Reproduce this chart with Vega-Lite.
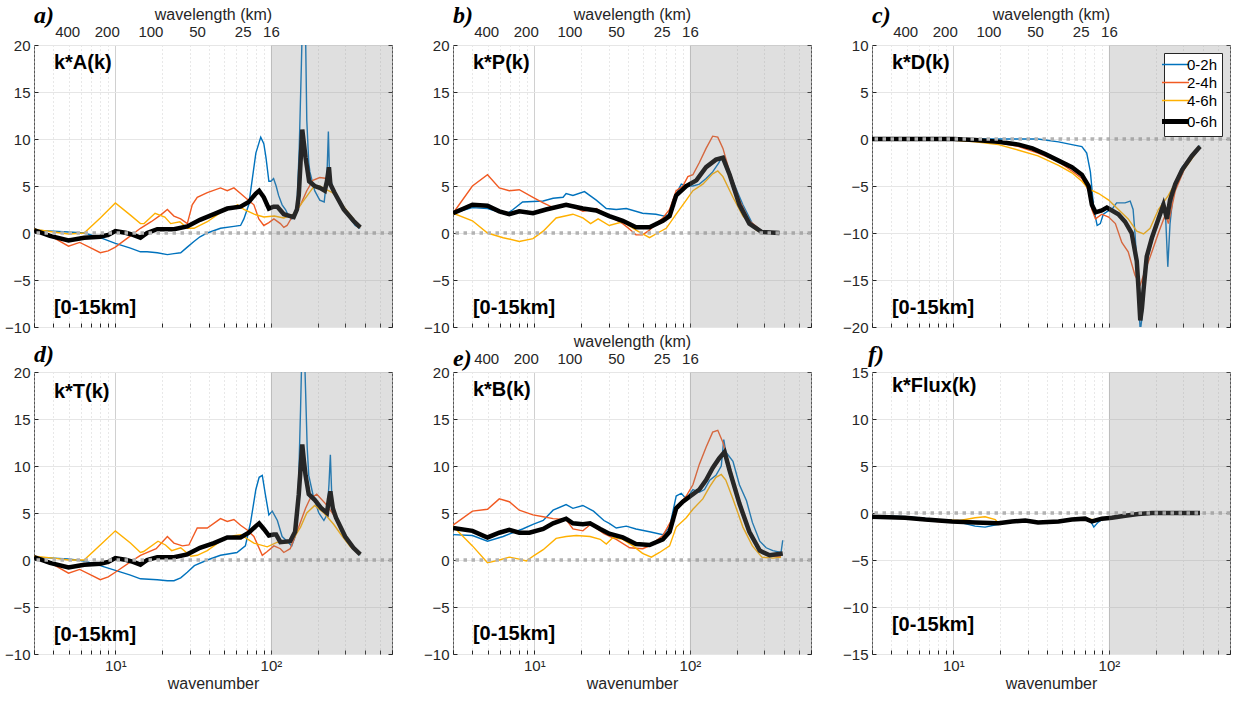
{
"$schema":"https://vega.github.io/schema/vega-lite/v6.json",
"background":"#ffffff",
"padding":{"left":4,"top":3,"right":5,"bottom":5},
"columns":3,
"spacing":{"row":45,"column":61},
"bounds":"flush",
"resolve":{"scale":{"color":"independent"},"legend":{"color":"independent"}},
"config":{
 "view":{"stroke":"#555555","strokeWidth":1},
 "axis":{"labelFont":"Liberation Sans","labelFontSize":15,"labelColor":"#262626","titleFont":"Liberation Sans","titleFontSize":16,"titleFontWeight":"normal","titleColor":"#262626","tickColor":"#262626","domain":false,"labelFlush":false,"labelOverlap":false},
 "title":{"font":"Liberation Serif","fontStyle":"italic","fontWeight":"bold","fontSize":24,"anchor":"start","frame":"group","color":"#000000"},
 "text":{"font":"Liberation Sans","color":"#000000"}
},
"datasets":{
"a":[
{"s":"0-2h","k":3,"v":0.3},{"s":"0-2h","k":4,"v":0.2},{"s":"0-2h","k":5,"v":0.1},{"s":"0-2h","k":6.3,"v":0},{"s":"0-2h","k":8,"v":-0.5},{"s":"0-2h","k":10,"v":-1.1},{"s":"0-2h","k":12.5,"v":-1.6},{"s":"0-2h","k":14.5,"v":-2.0},{"s":"0-2h","k":16,"v":-2.0},{"s":"0-2h","k":18.6,"v":-2.1},{"s":"0-2h","k":21.6,"v":-2.3},{"s":"0-2h","k":23.8,"v":-2.2},{"s":"0-2h","k":26.3,"v":-2.1},{"s":"0-2h","k":29,"v":-1.5},{"s":"0-2h","k":32,"v":-0.9},{"s":"0-2h","k":35,"v":-0.4},{"s":"0-2h","k":39,"v":0.0},{"s":"0-2h","k":47.4,"v":0.5},{"s":"0-2h","k":57.8,"v":0.7},{"s":"0-2h","k":63.8,"v":0.8},{"s":"0-2h","k":67,"v":1.5},{"s":"0-2h","k":72,"v":3.0},{"s":"0-2h","k":77,"v":6.5},{"s":"0-2h","k":80,"v":8.5},{"s":"0-2h","k":86,"v":10.2},{"s":"0-2h","k":90,"v":9.5},{"s":"0-2h","k":93,"v":8},{"s":"0-2h","k":97,"v":5.5},{"s":"0-2h","k":100,"v":5.5},{"s":"0-2h","k":104,"v":5.8},{"s":"0-2h","k":108,"v":5.0},{"s":"0-2h","k":112,"v":4.0},{"s":"0-2h","k":118,"v":3.0},{"s":"0-2h","k":124,"v":2.5},{"s":"0-2h","k":130,"v":1.8},{"s":"0-2h","k":136,"v":1.5},{"s":"0-2h","k":140,"v":1.6},{"s":"0-2h","k":147,"v":3.0},{"s":"0-2h","k":152,"v":9},{"s":"0-2h","k":157,"v":18},{"s":"0-2h","k":160,"v":24},{"s":"0-2h","k":166,"v":24},{"s":"0-2h","k":170,"v":12},{"s":"0-2h","k":175,"v":7.5},{"s":"0-2h","k":178,"v":6.5},{"s":"0-2h","k":191,"v":4.5},{"s":"0-2h","k":206,"v":3.5},{"s":"0-2h","k":220,"v":3.3},{"s":"0-2h","k":229,"v":6.0},{"s":"0-2h","k":234,"v":10.8},{"s":"0-2h","k":238,"v":6.0},{"s":"0-2h","k":249,"v":5.0},{"s":"0-2h","k":268,"v":3.5},{"s":"0-2h","k":294,"v":2.5},{"s":"0-2h","k":324,"v":1.5},{"s":"0-2h","k":348,"v":0.8},{"s":"0-2h","k":375,"v":0.5},
{"s":"2-4h","k":3,"v":0.4},{"s":"2-4h","k":4,"v":-0.5},{"s":"2-4h","k":5,"v":-1.4},{"s":"2-4h","k":5.9,"v":-1.0},{"s":"2-4h","k":7,"v":-1.6},{"s":"2-4h","k":8,"v":-2.1},{"s":"2-4h","k":9,"v":-1.9},{"s":"2-4h","k":10,"v":-1.5},{"s":"2-4h","k":12.5,"v":-0.3},{"s":"2-4h","k":14.5,"v":0.5},{"s":"2-4h","k":17,"v":1.2},{"s":"2-4h","k":19.5,"v":1.9},{"s":"2-4h","k":21.6,"v":2.5},{"s":"2-4h","k":23.8,"v":1.8},{"s":"2-4h","k":26.3,"v":1.5},{"s":"2-4h","k":29,"v":1.0},{"s":"2-4h","k":31.2,"v":3.0},{"s":"2-4h","k":33.6,"v":3.8},{"s":"2-4h","k":39,"v":4.3},{"s":"2-4h","k":47.4,"v":4.8},{"s":"2-4h","k":52.4,"v":4.5},{"s":"2-4h","k":57.8,"v":4.8},{"s":"2-4h","k":63.8,"v":4.2},{"s":"2-4h","k":70.4,"v":3.6},{"s":"2-4h","k":77.7,"v":3.0},{"s":"2-4h","k":83.6,"v":1.5},{"s":"2-4h","k":90,"v":0.8},{"s":"2-4h","k":97,"v":1.1},{"s":"2-4h","k":104.5,"v":1.5},{"s":"2-4h","k":115,"v":1.0},{"s":"2-4h","k":121,"v":0.6},{"s":"2-4h","k":127,"v":0.8},{"s":"2-4h","k":140,"v":2.0},{"s":"2-4h","k":155,"v":3.0},{"s":"2-4h","k":170,"v":4.5},{"s":"2-4h","k":186,"v":5.6},{"s":"2-4h","k":206,"v":5.9},{"s":"2-4h","k":229,"v":5.8},{"s":"2-4h","k":256,"v":4.5},{"s":"2-4h","k":281,"v":3.2},{"s":"2-4h","k":324,"v":1.8},{"s":"2-4h","k":375,"v":0.6},
{"s":"4-6h","k":3,"v":0.4},{"s":"4-6h","k":4,"v":0.1},{"s":"4-6h","k":5,"v":-0.1},{"s":"4-6h","k":6.3,"v":0.0},{"s":"4-6h","k":8,"v":1.6},{"s":"4-6h","k":10,"v":3.2},{"s":"4-6h","k":12.5,"v":1.9},{"s":"4-6h","k":14.5,"v":1.0},{"s":"4-6h","k":15.3,"v":1.0},{"s":"4-6h","k":18,"v":2.1},{"s":"4-6h","k":20.8,"v":1.7},{"s":"4-6h","k":22.7,"v":1.0},{"s":"4-6h","k":26,"v":1.2},{"s":"4-6h","k":29,"v":0.5},{"s":"4-6h","k":32,"v":0.5},{"s":"4-6h","k":39,"v":1.2},{"s":"4-6h","k":47.6,"v":2.2},{"s":"4-6h","k":58,"v":2.8},{"s":"4-6h","k":61,"v":3.0},{"s":"4-6h","k":67,"v":2.5},{"s":"4-6h","k":78,"v":2.0},{"s":"4-6h","k":90,"v":1.7},{"s":"4-6h","k":105,"v":1.8},{"s":"4-6h","k":121,"v":1.6},{"s":"4-6h","k":140,"v":2.0},{"s":"4-6h","k":155,"v":3.0},{"s":"4-6h","k":186,"v":4.8},{"s":"4-6h","k":206,"v":5.0},{"s":"4-6h","k":229,"v":4.6},{"s":"4-6h","k":256,"v":4.2},{"s":"4-6h","k":294,"v":2.8},{"s":"4-6h","k":375,"v":0.6},
{"s":"0-6h","k":3,"v":0.3},{"s":"0-6h","k":3.8,"v":-0.3},{"s":"0-6h","k":5,"v":-0.8},{"s":"0-6h","k":6.3,"v":-0.5},{"s":"0-6h","k":8,"v":-0.4},{"s":"0-6h","k":9,"v":-0.2},{"s":"0-6h","k":10,"v":0.2},{"s":"0-6h","k":11.8,"v":0.0},{"s":"0-6h","k":13,"v":-0.2},{"s":"0-6h","k":14.5,"v":-0.5},{"s":"0-6h","k":16,"v":0.0},{"s":"0-6h","k":18.6,"v":0.4},{"s":"0-6h","k":23.8,"v":0.4},{"s":"0-6h","k":29,"v":0.7},{"s":"0-6h","k":35,"v":1.4},{"s":"0-6h","k":43,"v":2.0},{"s":"0-6h","k":52.4,"v":2.6},{"s":"0-6h","k":63.8,"v":2.8},{"s":"0-6h","k":72,"v":3.3},{"s":"0-6h","k":80,"v":4.2},{"s":"0-6h","k":84,"v":4.5},{"s":"0-6h","k":90,"v":3.8},{"s":"0-6h","k":97,"v":2.6},{"s":"0-6h","k":104,"v":2.8},{"s":"0-6h","k":110,"v":2.8},{"s":"0-6h","k":121,"v":2.0},{"s":"0-6h","k":133,"v":1.8},{"s":"0-6h","k":140,"v":1.7},{"s":"0-6h","k":147,"v":2.5},{"s":"0-6h","k":151,"v":4.0},{"s":"0-6h","k":155,"v":7.5},{"s":"0-6h","k":159,"v":11.0},{"s":"0-6h","k":163,"v":9.5},{"s":"0-6h","k":167,"v":8.0},{"s":"0-6h","k":176,"v":5.5},{"s":"0-6h","k":191,"v":5.0},{"s":"0-6h","k":206,"v":4.8},{"s":"0-6h","k":222,"v":4.5},{"s":"0-6h","k":229,"v":5.5},{"s":"0-6h","k":236,"v":7.0},{"s":"0-6h","k":241,"v":5.2},{"s":"0-6h","k":256,"v":4.3},{"s":"0-6h","k":294,"v":2.5},{"s":"0-6h","k":339,"v":1.3},{"s":"0-6h","k":375,"v":0.6}
],
"b":[
{"s":"0-2h","k":3,"v":2.1},{"s":"0-2h","k":4,"v":2.7},{"s":"0-2h","k":5,"v":2.6},{"s":"0-2h","k":6.6,"v":2.0},{"s":"0-2h","k":7.3,"v":2.5},{"s":"0-2h","k":8.4,"v":3.3},{"s":"0-2h","k":11.4,"v":3.4},{"s":"0-2h","k":13.2,"v":3.7},{"s":"0-2h","k":15.3,"v":3.8},{"s":"0-2h","k":16,"v":4.2},{"s":"0-2h","k":17.7,"v":4.0},{"s":"0-2h","k":21,"v":4.4},{"s":"0-2h","k":25,"v":3.5},{"s":"0-2h","k":29,"v":2.6},{"s":"0-2h","k":33.6,"v":2.5},{"s":"0-2h","k":39,"v":2.6},{"s":"0-2h","k":49.6,"v":2.1},{"s":"0-2h","k":60.5,"v":2.0},{"s":"0-2h","k":68.5,"v":1.8},{"s":"0-2h","k":74,"v":2.0},{"s":"0-2h","k":77.7,"v":3.5},{"s":"0-2h","k":83.6,"v":4.5},{"s":"0-2h","k":88,"v":5.2},{"s":"0-2h","k":94.7,"v":5.0},{"s":"0-2h","k":104.5,"v":5.0},{"s":"0-2h","k":115,"v":5.2},{"s":"0-2h","k":127,"v":5.8},{"s":"0-2h","k":140,"v":6.5},{"s":"0-2h","k":154,"v":7.5},{"s":"0-2h","k":159,"v":8.0},{"s":"0-2h","k":170,"v":7.5},{"s":"0-2h","k":189,"v":5.5},{"s":"0-2h","k":219,"v":3.0},{"s":"0-2h","k":252,"v":1.0},{"s":"0-2h","k":290,"v":0.2},{"s":"0-2h","k":341,"v":0.05},
{"s":"2-4h","k":3,"v":2.1},{"s":"2-4h","k":4,"v":5.0},{"s":"2-4h","k":5,"v":6.2},{"s":"2-4h","k":5.95,"v":4.8},{"s":"2-4h","k":6.9,"v":4.5},{"s":"2-4h","k":8,"v":4.6},{"s":"2-4h","k":9.8,"v":3.8},{"s":"2-4h","k":11.4,"v":3.2},{"s":"2-4h","k":13.2,"v":2.7},{"s":"2-4h","k":15.3,"v":3.0},{"s":"2-4h","k":17.7,"v":2.8},{"s":"2-4h","k":20.5,"v":2.3},{"s":"2-4h","k":25,"v":2.6},{"s":"2-4h","k":30.3,"v":1.8},{"s":"2-4h","k":37,"v":1.0},{"s":"2-4h","k":41,"v":0.4},{"s":"2-4h","k":45,"v":-0.2},{"s":"2-4h","k":49.6,"v":-0.2},{"s":"2-4h","k":55,"v":0.3},{"s":"2-4h","k":60.5,"v":1.0},{"s":"2-4h","k":67,"v":1.6},{"s":"2-4h","k":74,"v":2.5},{"s":"2-4h","k":81.6,"v":4.5},{"s":"2-4h","k":90,"v":5.0},{"s":"2-4h","k":97,"v":6.0},{"s":"2-4h","k":104.5,"v":6.2},{"s":"2-4h","k":115,"v":7.5},{"s":"2-4h","k":127,"v":9.0},{"s":"2-4h","k":140,"v":10.3},{"s":"2-4h","k":151,"v":10.2},{"s":"2-4h","k":163,"v":9.0},{"s":"2-4h","k":180,"v":6.5},{"s":"2-4h","k":208,"v":3.5},{"s":"2-4h","k":241,"v":1.3},{"s":"2-4h","k":290,"v":0.2},{"s":"2-4h","k":341,"v":0.0},
{"s":"4-6h","k":3,"v":2.1},{"s":"4-6h","k":4,"v":1.3},{"s":"4-6h","k":5,"v":0.0},{"s":"4-6h","k":6.3,"v":-0.5},{"s":"4-6h","k":8,"v":-0.9},{"s":"4-6h","k":9.8,"v":-0.6},{"s":"4-6h","k":11.4,"v":0.2},{"s":"4-6h","k":13.8,"v":1.6},{"s":"4-6h","k":17.7,"v":2.0},{"s":"4-6h","k":20.5,"v":1.6},{"s":"4-6h","k":23,"v":1.0},{"s":"4-6h","k":25.7,"v":1.5},{"s":"4-6h","k":30.3,"v":0.8},{"s":"4-6h","k":37,"v":1.2},{"s":"4-6h","k":45,"v":0.3},{"s":"4-6h","k":55,"v":-0.5},{"s":"4-6h","k":62,"v":0.0},{"s":"4-6h","k":70.4,"v":0.5},{"s":"4-6h","k":81.6,"v":2.0},{"s":"4-6h","k":94.7,"v":3.5},{"s":"4-6h","k":104.5,"v":4.5},{"s":"4-6h","k":121,"v":5.2},{"s":"4-6h","k":140,"v":6.3},{"s":"4-6h","k":151,"v":6.6},{"s":"4-6h","k":163,"v":6.0},{"s":"4-6h","k":189,"v":3.8},{"s":"4-6h","k":219,"v":1.8},{"s":"4-6h","k":267,"v":0.3},{"s":"4-6h","k":290,"v":0.0},
{"s":"0-6h","k":3,"v":2.1},{"s":"0-6h","k":4,"v":3.0},{"s":"0-6h","k":5,"v":2.9},{"s":"0-6h","k":5.95,"v":2.3},{"s":"0-6h","k":6.9,"v":2.0},{"s":"0-6h","k":8,"v":2.3},{"s":"0-6h","k":9.8,"v":2.1},{"s":"0-6h","k":11.9,"v":2.5},{"s":"0-6h","k":16,"v":3.0},{"s":"0-6h","k":20.5,"v":2.6},{"s":"0-6h","k":25,"v":2.4},{"s":"0-6h","k":30.3,"v":1.8},{"s":"0-6h","k":37,"v":1.3},{"s":"0-6h","k":45,"v":0.6},{"s":"0-6h","k":55,"v":0.6},{"s":"0-6h","k":67,"v":1.3},{"s":"0-6h","k":74,"v":1.8},{"s":"0-6h","k":81.6,"v":4.0},{"s":"0-6h","k":94.7,"v":5.0},{"s":"0-6h","k":110,"v":5.6},{"s":"0-6h","k":127,"v":7.0},{"s":"0-6h","k":147,"v":7.8},{"s":"0-6h","k":163,"v":8.0},{"s":"0-6h","k":180,"v":6.2},{"s":"0-6h","k":208,"v":3.0},{"s":"0-6h","k":241,"v":1.0},{"s":"0-6h","k":290,"v":0.1},{"s":"0-6h","k":376,"v":0.0}
],
"c":[
{"s":"0-2h","k":3,"v":0},{"s":"0-2h","k":10,"v":0},{"s":"0-2h","k":20,"v":0},{"s":"0-2h","k":35,"v":0},{"s":"0-2h","k":39,"v":-0.1},{"s":"0-2h","k":47.4,"v":-0.3},{"s":"0-2h","k":57.8,"v":-0.6},{"s":"0-2h","k":67,"v":-0.8},{"s":"0-2h","k":72,"v":-1.5},{"s":"0-2h","k":76,"v":-3.5},{"s":"0-2h","k":80,"v":-7.5},{"s":"0-2h","k":84,"v":-9.2},{"s":"0-2h","k":88,"v":-9.0},{"s":"0-2h","k":92,"v":-8.0},{"s":"0-2h","k":100,"v":-7.6},{"s":"0-2h","k":104.5,"v":-7.5},{"s":"0-2h","k":112,"v":-6.8},{"s":"0-2h","k":127,"v":-6.8},{"s":"0-2h","k":137,"v":-6.6},{"s":"0-2h","k":143,"v":-7.5},{"s":"0-2h","k":147,"v":-10},{"s":"0-2h","k":151,"v":-13},{"s":"0-2h","k":155,"v":-17},{"s":"0-2h","k":159,"v":-20.5},{"s":"0-2h","k":163,"v":-19},{"s":"0-2h","k":167,"v":-17},{"s":"0-2h","k":175,"v":-13},{"s":"0-2h","k":199,"v":-9.5},{"s":"0-2h","k":219,"v":-7.0},{"s":"0-2h","k":231,"v":-8.0},{"s":"0-2h","k":239,"v":-13.6},{"s":"0-2h","k":247,"v":-9},{"s":"0-2h","k":262,"v":-5.0},{"s":"0-2h","k":295,"v":-3.0},{"s":"0-2h","k":341,"v":-1.8},{"s":"0-2h","k":385,"v":-0.7},
{"s":"2-4h","k":3,"v":0},{"s":"2-4h","k":12,"v":0},{"s":"2-4h","k":13.8,"v":-0.2},{"s":"2-4h","k":19.5,"v":-0.4},{"s":"2-4h","k":26.3,"v":-0.8},{"s":"2-4h","k":35,"v":-1.5},{"s":"2-4h","k":47.4,"v":-2.4},{"s":"2-4h","k":57.8,"v":-3.4},{"s":"2-4h","k":67,"v":-4.2},{"s":"2-4h","k":74,"v":-5.5},{"s":"2-4h","k":77.7,"v":-7.5},{"s":"2-4h","k":82,"v":-8.5},{"s":"2-4h","k":90,"v":-8.0},{"s":"2-4h","k":99.6,"v":-8.3},{"s":"2-4h","k":110,"v":-9.0},{"s":"2-4h","k":121,"v":-11.0},{"s":"2-4h","k":133,"v":-12.0},{"s":"2-4h","k":147,"v":-14.5},{"s":"2-4h","k":159,"v":-15.5},{"s":"2-4h","k":171,"v":-14},{"s":"2-4h","k":189,"v":-12},{"s":"2-4h","k":208,"v":-10},{"s":"2-4h","k":231,"v":-8},{"s":"2-4h","k":241,"v":-9},{"s":"2-4h","k":267,"v":-5.5},{"s":"2-4h","k":309,"v":-3.0},{"s":"2-4h","k":385,"v":-0.9},
{"s":"4-6h","k":3,"v":0},{"s":"4-6h","k":8,"v":0},{"s":"4-6h","k":9.8,"v":-0.1},{"s":"4-6h","k":13.8,"v":-0.3},{"s":"4-6h","k":19.5,"v":-0.6},{"s":"4-6h","k":26.3,"v":-1.2},{"s":"4-6h","k":35,"v":-1.8},{"s":"4-6h","k":47.4,"v":-2.8},{"s":"4-6h","k":57.8,"v":-3.6},{"s":"4-6h","k":67,"v":-4.5},{"s":"4-6h","k":74,"v":-5.3},{"s":"4-6h","k":86,"v":-5.8},{"s":"4-6h","k":99.6,"v":-6.5},{"s":"4-6h","k":115,"v":-7.5},{"s":"4-6h","k":133,"v":-8.5},{"s":"4-6h","k":151,"v":-9.8},{"s":"4-6h","k":167,"v":-10.1},{"s":"4-6h","k":184,"v":-9.5},{"s":"4-6h","k":208,"v":-7.5},{"s":"4-6h","k":241,"v":-6.0},{"s":"4-6h","k":281,"v":-4.0},{"s":"4-6h","k":328,"v":-2.5},{"s":"4-6h","k":385,"v":-0.8},
{"s":"0-6h","k":3,"v":0},{"s":"0-6h","k":10,"v":0},{"s":"0-6h","k":13.8,"v":-0.1},{"s":"0-6h","k":19.5,"v":-0.3},{"s":"0-6h","k":26.3,"v":-0.6},{"s":"0-6h","k":32.2,"v":-1.0},{"s":"0-6h","k":39,"v":-1.6},{"s":"0-6h","k":47.4,"v":-2.3},{"s":"0-6h","k":57.8,"v":-3.0},{"s":"0-6h","k":67,"v":-3.8},{"s":"0-6h","k":74,"v":-5.0},{"s":"0-6h","k":77.7,"v":-7.0},{"s":"0-6h","k":82,"v":-7.8},{"s":"0-6h","k":90,"v":-7.6},{"s":"0-6h","k":97,"v":-7.3},{"s":"0-6h","k":104.5,"v":-7.6},{"s":"0-6h","k":115,"v":-8.0},{"s":"0-6h","k":127,"v":-8.8},{"s":"0-6h","k":140,"v":-10},{"s":"0-6h","k":151,"v":-13},{"s":"0-6h","k":155,"v":-16},{"s":"0-6h","k":159,"v":-19.3},{"s":"0-6h","k":163,"v":-18},{"s":"0-6h","k":167,"v":-16},{"s":"0-6h","k":175,"v":-12.5},{"s":"0-6h","k":189,"v":-10.5},{"s":"0-6h","k":208,"v":-8.5},{"s":"0-6h","k":224,"v":-7.0},{"s":"0-6h","k":236,"v":-8.5},{"s":"0-6h","k":247,"v":-6.5},{"s":"0-6h","k":267,"v":-4.8},{"s":"0-6h","k":295,"v":-3.3},{"s":"0-6h","k":341,"v":-1.8},{"s":"0-6h","k":385,"v":-0.8}
],
"d":[
{"s":"0-2h","k":3,"v":0.3},{"s":"0-2h","k":4,"v":0.2},{"s":"0-2h","k":5,"v":0.1},{"s":"0-2h","k":6.3,"v":-0.1},{"s":"0-2h","k":8,"v":-0.6},{"s":"0-2h","k":10,"v":-1.1},{"s":"0-2h","k":12.5,"v":-1.6},{"s":"0-2h","k":14.5,"v":-2.0},{"s":"0-2h","k":18.6,"v":-2.1},{"s":"0-2h","k":21.6,"v":-2.2},{"s":"0-2h","k":23.8,"v":-2.2},{"s":"0-2h","k":26.3,"v":-1.9},{"s":"0-2h","k":29,"v":-1.3},{"s":"0-2h","k":32.2,"v":-0.6},{"s":"0-2h","k":39,"v":0.0},{"s":"0-2h","k":47.4,"v":0.5},{"s":"0-2h","k":60.5,"v":0.8},{"s":"0-2h","k":68.5,"v":1.5},{"s":"0-2h","k":74,"v":4.0},{"s":"0-2h","k":80,"v":7.5},{"s":"0-2h","k":84,"v":8.8},{"s":"0-2h","k":88,"v":9.0},{"s":"0-2h","k":92,"v":7},{"s":"0-2h","k":97,"v":4.8},{"s":"0-2h","k":102,"v":5.2},{"s":"0-2h","k":110,"v":4.2},{"s":"0-2h","k":118,"v":2.5},{"s":"0-2h","k":127,"v":2.0},{"s":"0-2h","k":136,"v":1.5},{"s":"0-2h","k":143,"v":2.5},{"s":"0-2h","k":148,"v":5},{"s":"0-2h","k":151,"v":9},{"s":"0-2h","k":155,"v":16},{"s":"0-2h","k":159,"v":24},{"s":"0-2h","k":163,"v":24},{"s":"0-2h","k":167,"v":18},{"s":"0-2h","k":171,"v":12},{"s":"0-2h","k":175,"v":9},{"s":"0-2h","k":186,"v":7.0},{"s":"0-2h","k":203,"v":5.0},{"s":"0-2h","k":219,"v":4.2},{"s":"0-2h","k":229,"v":4.8},{"s":"0-2h","k":236,"v":8},{"s":"0-2h","k":241,"v":11.2},{"s":"0-2h","k":247,"v":6.0},{"s":"0-2h","k":262,"v":4.5},{"s":"0-2h","k":288,"v":3.0},{"s":"0-2h","k":324,"v":1.5},{"s":"0-2h","k":375,"v":0.5},
{"s":"2-4h","k":3,"v":0.4},{"s":"2-4h","k":4,"v":-0.5},{"s":"2-4h","k":5,"v":-1.4},{"s":"2-4h","k":5.9,"v":-1.0},{"s":"2-4h","k":7,"v":-1.6},{"s":"2-4h","k":8,"v":-2.1},{"s":"2-4h","k":9,"v":-1.8},{"s":"2-4h","k":10,"v":-1.3},{"s":"2-4h","k":12.5,"v":-0.2},{"s":"2-4h","k":14.5,"v":0.5},{"s":"2-4h","k":18.3,"v":1.2},{"s":"2-4h","k":21.6,"v":2.5},{"s":"2-4h","k":23.8,"v":1.8},{"s":"2-4h","k":27,"v":1.5},{"s":"2-4h","k":29.7,"v":1.6},{"s":"2-4h","k":33.6,"v":3.4},{"s":"2-4h","k":39,"v":3.4},{"s":"2-4h","k":47.4,"v":4.4},{"s":"2-4h","k":52.4,"v":4.1},{"s":"2-4h","k":57.8,"v":4.3},{"s":"2-4h","k":63.8,"v":3.7},{"s":"2-4h","k":70.4,"v":3.2},{"s":"2-4h","k":77.7,"v":2.5},{"s":"2-4h","k":88,"v":0.5},{"s":"2-4h","k":94.7,"v":0.9},{"s":"2-4h","k":104.5,"v":1.5},{"s":"2-4h","k":115,"v":1.2},{"s":"2-4h","k":121,"v":0.8},{"s":"2-4h","k":133,"v":1.2},{"s":"2-4h","k":147,"v":3.0},{"s":"2-4h","k":167,"v":5.5},{"s":"2-4h","k":178,"v":6.5},{"s":"2-4h","k":197,"v":7.0},{"s":"2-4h","k":224,"v":6.0},{"s":"2-4h","k":253,"v":4.8},{"s":"2-4h","k":288,"v":3.0},{"s":"2-4h","k":324,"v":1.6},{"s":"2-4h","k":375,"v":0.6},
{"s":"4-6h","k":3,"v":0.4},{"s":"4-6h","k":4,"v":0.2},{"s":"4-6h","k":5,"v":0.0},{"s":"4-6h","k":6.3,"v":0.0},{"s":"4-6h","k":8,"v":1.6},{"s":"4-6h","k":10,"v":3.1},{"s":"4-6h","k":12.5,"v":1.8},{"s":"4-6h","k":14.5,"v":0.8},{"s":"4-6h","k":15.2,"v":0.9},{"s":"4-6h","k":18.8,"v":2.0},{"s":"4-6h","k":21,"v":1.6},{"s":"4-6h","k":23,"v":1.0},{"s":"4-6h","k":26.3,"v":1.3},{"s":"4-6h","k":30.6,"v":0.4},{"s":"4-6h","k":33.6,"v":0.5},{"s":"4-6h","k":39,"v":1.0},{"s":"4-6h","k":47.4,"v":2.0},{"s":"4-6h","k":57.8,"v":2.6},{"s":"4-6h","k":63.8,"v":2.7},{"s":"4-6h","k":77.7,"v":1.8},{"s":"4-6h","k":94.7,"v":1.4},{"s":"4-6h","k":110,"v":1.9},{"s":"4-6h","k":127,"v":1.8},{"s":"4-6h","k":140,"v":2.3},{"s":"4-6h","k":155,"v":3.5},{"s":"4-6h","k":170,"v":5.0},{"s":"4-6h","k":191,"v":5.8},{"s":"4-6h","k":219,"v":5.0},{"s":"4-6h","k":253,"v":3.8},{"s":"4-6h","k":288,"v":2.5},{"s":"4-6h","k":324,"v":1.4},{"s":"4-6h","k":375,"v":0.6},
{"s":"0-6h","k":3,"v":0.3},{"s":"0-6h","k":3.8,"v":-0.3},{"s":"0-6h","k":5,"v":-0.8},{"s":"0-6h","k":6.3,"v":-0.5},{"s":"0-6h","k":8,"v":-0.4},{"s":"0-6h","k":9,"v":-0.2},{"s":"0-6h","k":10,"v":0.2},{"s":"0-6h","k":11.8,"v":0.0},{"s":"0-6h","k":13,"v":-0.2},{"s":"0-6h","k":14.5,"v":-0.5},{"s":"0-6h","k":16,"v":0.0},{"s":"0-6h","k":18.6,"v":0.3},{"s":"0-6h","k":23.8,"v":0.3},{"s":"0-6h","k":29,"v":0.6},{"s":"0-6h","k":35,"v":1.3},{"s":"0-6h","k":43,"v":1.8},{"s":"0-6h","k":52.4,"v":2.4},{"s":"0-6h","k":63.8,"v":2.4},{"s":"0-6h","k":72,"v":2.9},{"s":"0-6h","k":80,"v":3.6},{"s":"0-6h","k":84,"v":3.9},{"s":"0-6h","k":90,"v":3.3},{"s":"0-6h","k":97,"v":2.6},{"s":"0-6h","k":104,"v":2.7},{"s":"0-6h","k":108,"v":2.7},{"s":"0-6h","k":115,"v":1.9},{"s":"0-6h","k":133,"v":2.0},{"s":"0-6h","k":143,"v":3.0},{"s":"0-6h","k":151,"v":7.0},{"s":"0-6h","k":159,"v":12.3},{"s":"0-6h","k":163,"v":10.5},{"s":"0-6h","k":167,"v":9.0},{"s":"0-6h","k":175,"v":7.0},{"s":"0-6h","k":191,"v":6.4},{"s":"0-6h","k":211,"v":5.5},{"s":"0-6h","k":229,"v":5.0},{"s":"0-6h","k":236,"v":6.5},{"s":"0-6h","k":241,"v":7.3},{"s":"0-6h","k":250,"v":5.5},{"s":"0-6h","k":262,"v":4.5},{"s":"0-6h","k":300,"v":2.5},{"s":"0-6h","k":339,"v":1.3},{"s":"0-6h","k":375,"v":0.6}
],
"e":[
{"s":"0-2h","k":3,"v":2.7},{"s":"0-2h","k":4,"v":2.6},{"s":"0-2h","k":5,"v":2.0},{"s":"0-2h","k":6.3,"v":2.5},{"s":"0-2h","k":8.4,"v":3.3},{"s":"0-2h","k":9.8,"v":3.8},{"s":"0-2h","k":11.4,"v":4.2},{"s":"0-2h","k":13.2,"v":5.3},{"s":"0-2h","k":16,"v":5.9},{"s":"0-2h","k":17.7,"v":5.5},{"s":"0-2h","k":20.5,"v":5.8},{"s":"0-2h","k":24,"v":5.2},{"s":"0-2h","k":28,"v":4.2},{"s":"0-2h","k":30.3,"v":3.9},{"s":"0-2h","k":33.6,"v":3.4},{"s":"0-2h","k":39,"v":3.6},{"s":"0-2h","k":45,"v":3.3},{"s":"0-2h","k":55,"v":3.0},{"s":"0-2h","k":67,"v":2.7},{"s":"0-2h","k":74,"v":3.5},{"s":"0-2h","k":81.6,"v":6.8},{"s":"0-2h","k":88,"v":7.1},{"s":"0-2h","k":94.7,"v":6.5},{"s":"0-2h","k":104.5,"v":7.5},{"s":"0-2h","k":115,"v":7.2},{"s":"0-2h","k":124,"v":7.5},{"s":"0-2h","k":134,"v":8.5},{"s":"0-2h","k":147,"v":9.0},{"s":"0-2h","k":159,"v":10.0},{"s":"0-2h","k":165,"v":12.8},{"s":"0-2h","k":170,"v":11.5},{"s":"0-2h","k":189,"v":10.5},{"s":"0-2h","k":208,"v":8.0},{"s":"0-2h","k":231,"v":6.3},{"s":"0-2h","k":252,"v":4.0},{"s":"0-2h","k":281,"v":2.0},{"s":"0-2h","k":309,"v":1.3},{"s":"0-2h","k":341,"v":1.0},{"s":"0-2h","k":385,"v":0.8},{"s":"0-2h","k":395,"v":2.1},
{"s":"2-4h","k":3,"v":3.7},{"s":"2-4h","k":4,"v":5.2},{"s":"2-4h","k":5,"v":5.4},{"s":"2-4h","k":5.95,"v":6.5},{"s":"2-4h","k":6.9,"v":6.2},{"s":"2-4h","k":8,"v":5.3},{"s":"2-4h","k":9.8,"v":4.8},{"s":"2-4h","k":11.4,"v":4.6},{"s":"2-4h","k":13.2,"v":4.4},{"s":"2-4h","k":16,"v":4.3},{"s":"2-4h","k":17.7,"v":3.3},{"s":"2-4h","k":20.5,"v":3.1},{"s":"2-4h","k":23,"v":3.8},{"s":"2-4h","k":28,"v":2.8},{"s":"2-4h","k":33.6,"v":2.2},{"s":"2-4h","k":41,"v":1.3},{"s":"2-4h","k":49.6,"v":1.2},{"s":"2-4h","k":55,"v":1.5},{"s":"2-4h","k":67,"v":2.6},{"s":"2-4h","k":77.7,"v":4.5},{"s":"2-4h","k":86,"v":6.0},{"s":"2-4h","k":94.7,"v":6.8},{"s":"2-4h","k":104.5,"v":8.0},{"s":"2-4h","k":115,"v":10.2},{"s":"2-4h","k":127,"v":12.0},{"s":"2-4h","k":140,"v":13.6},{"s":"2-4h","k":151,"v":13.8},{"s":"2-4h","k":163,"v":12.5},{"s":"2-4h","k":180,"v":10},{"s":"2-4h","k":208,"v":6.0},{"s":"2-4h","k":241,"v":3.0},{"s":"2-4h","k":281,"v":1.0},{"s":"2-4h","k":325,"v":0.4},{"s":"2-4h","k":385,"v":0.4},
{"s":"4-6h","k":3,"v":3.6},{"s":"4-6h","k":4,"v":1.5},{"s":"4-6h","k":5,"v":-0.3},{"s":"4-6h","k":5.95,"v":0.0},{"s":"4-6h","k":6.9,"v":0.3},{"s":"4-6h","k":8,"v":0.1},{"s":"4-6h","k":8.9,"v":-0.1},{"s":"4-6h","k":10,"v":0.5},{"s":"4-6h","k":11.4,"v":1.1},{"s":"4-6h","k":13.8,"v":2.3},{"s":"4-6h","k":16,"v":2.5},{"s":"4-6h","k":18.6,"v":2.6},{"s":"4-6h","k":22.8,"v":2.5},{"s":"4-6h","k":26.5,"v":2.2},{"s":"4-6h","k":29,"v":1.7},{"s":"4-6h","k":32,"v":2.4},{"s":"4-6h","k":37,"v":2.2},{"s":"4-6h","k":43,"v":1.5},{"s":"4-6h","k":49.6,"v":0.7},{"s":"4-6h","k":56.5,"v":0.3},{"s":"4-6h","k":63.8,"v":0.8},{"s":"4-6h","k":74,"v":1.5},{"s":"4-6h","k":81.6,"v":3.5},{"s":"4-6h","k":94.7,"v":4.5},{"s":"4-6h","k":104.5,"v":5.4},{"s":"4-6h","k":121,"v":6.5},{"s":"4-6h","k":134,"v":7.8},{"s":"4-6h","k":147,"v":8.8},{"s":"4-6h","k":159,"v":9.1},{"s":"4-6h","k":170,"v":8.5},{"s":"4-6h","k":189,"v":6.5},{"s":"4-6h","k":219,"v":3.5},{"s":"4-6h","k":252,"v":1.5},{"s":"4-6h","k":290,"v":0.3},{"s":"4-6h","k":341,"v":0.2},{"s":"4-6h","k":385,"v":0.3},
{"s":"0-6h","k":3,"v":3.4},{"s":"0-6h","k":4,"v":3.1},{"s":"0-6h","k":5,"v":2.4},{"s":"0-6h","k":5.95,"v":2.9},{"s":"0-6h","k":6.9,"v":3.2},{"s":"0-6h","k":8,"v":2.9},{"s":"0-6h","k":9.3,"v":2.9},{"s":"0-6h","k":11.4,"v":3.3},{"s":"0-6h","k":13.2,"v":3.9},{"s":"0-6h","k":16,"v":4.4},{"s":"0-6h","k":17.7,"v":3.9},{"s":"0-6h","k":20.5,"v":3.8},{"s":"0-6h","k":22.8,"v":3.9},{"s":"0-6h","k":26.5,"v":3.3},{"s":"0-6h","k":30.3,"v":2.8},{"s":"0-6h","k":37,"v":2.4},{"s":"0-6h","k":45,"v":1.7},{"s":"0-6h","k":55,"v":1.6},{"s":"0-6h","k":67,"v":2.2},{"s":"0-6h","k":74,"v":3.0},{"s":"0-6h","k":81.6,"v":5.5},{"s":"0-6h","k":90,"v":6.2},{"s":"0-6h","k":104.5,"v":7.0},{"s":"0-6h","k":115,"v":7.5},{"s":"0-6h","k":127,"v":8.5},{"s":"0-6h","k":140,"v":9.8},{"s":"0-6h","k":154,"v":10.8},{"s":"0-6h","k":167,"v":11.5},{"s":"0-6h","k":180,"v":9.5},{"s":"0-6h","k":208,"v":6.0},{"s":"0-6h","k":241,"v":3.0},{"s":"0-6h","k":281,"v":1.0},{"s":"0-6h","k":325,"v":0.5},{"s":"0-6h","k":395,"v":0.7}
],
"f":[
{"s":"0-2h","k":3,"v":-0.3},{"s":"0-2h","k":5,"v":-0.4},{"s":"0-2h","k":8,"v":-0.7},{"s":"0-2h","k":11,"v":-1.0},{"s":"0-2h","k":13.8,"v":-1.4},{"s":"0-2h","k":16,"v":-1.5},{"s":"0-2h","k":19.5,"v":-1.2},{"s":"0-2h","k":23.8,"v":-0.9},{"s":"0-2h","k":29,"v":-0.8},{"s":"0-2h","k":35,"v":-1.0},{"s":"0-2h","k":47.4,"v":-0.9},{"s":"0-2h","k":57.8,"v":-0.7},{"s":"0-2h","k":70.4,"v":-0.6},{"s":"0-2h","k":77,"v":-1.0},{"s":"0-2h","k":80,"v":-1.5},{"s":"0-2h","k":85,"v":-1.0},{"s":"0-2h","k":90,"v":-0.7},{"s":"0-2h","k":104.5,"v":-0.5},{"s":"0-2h","k":127,"v":-0.3},{"s":"0-2h","k":154,"v":-0.1},{"s":"0-2h","k":189,"v":0},{"s":"0-2h","k":385,"v":0},
{"s":"2-4h","k":3,"v":-0.5},{"s":"2-4h","k":5,"v":-0.6},{"s":"2-4h","k":8,"v":-0.9},{"s":"2-4h","k":11,"v":-1.0},{"s":"2-4h","k":13.8,"v":-1.0},{"s":"2-4h","k":19.5,"v":-1.1},{"s":"2-4h","k":23.8,"v":-0.9},{"s":"2-4h","k":29,"v":-0.8},{"s":"2-4h","k":35,"v":-1.0},{"s":"2-4h","k":47.4,"v":-0.9},{"s":"2-4h","k":57.8,"v":-0.7},{"s":"2-4h","k":70.4,"v":-0.6},{"s":"2-4h","k":80,"v":-0.9},{"s":"2-4h","k":90,"v":-0.6},{"s":"2-4h","k":104.5,"v":-0.5},{"s":"2-4h","k":127,"v":-0.3},{"s":"2-4h","k":154,"v":-0.1},{"s":"2-4h","k":189,"v":0},{"s":"2-4h","k":385,"v":0},
{"s":"4-6h","k":3,"v":-0.4},{"s":"4-6h","k":5,"v":-0.5},{"s":"4-6h","k":8,"v":-0.7},{"s":"4-6h","k":11,"v":-0.8},{"s":"4-6h","k":13.8,"v":-0.5},{"s":"4-6h","k":16,"v":-0.4},{"s":"4-6h","k":18.6,"v":-0.7},{"s":"4-6h","k":19.5,"v":-1.1},{"s":"4-6h","k":23.8,"v":-0.9},{"s":"4-6h","k":29,"v":-0.8},{"s":"4-6h","k":35,"v":-1.0},{"s":"4-6h","k":47.4,"v":-0.9},{"s":"4-6h","k":57.8,"v":-0.7},{"s":"4-6h","k":70.4,"v":-0.6},{"s":"4-6h","k":80,"v":-0.7},{"s":"4-6h","k":90,"v":-0.6},{"s":"4-6h","k":104.5,"v":-0.5},{"s":"4-6h","k":127,"v":-0.3},{"s":"4-6h","k":154,"v":-0.1},{"s":"4-6h","k":189,"v":0},{"s":"4-6h","k":385,"v":0},
{"s":"0-6h","k":3,"v":-0.4},{"s":"0-6h","k":4.9,"v":-0.5},{"s":"0-6h","k":6.6,"v":-0.7},{"s":"0-6h","k":9.8,"v":-0.9},{"s":"0-6h","k":13.8,"v":-1.0},{"s":"0-6h","k":19.5,"v":-1.1},{"s":"0-6h","k":23.8,"v":-0.9},{"s":"0-6h","k":29,"v":-0.8},{"s":"0-6h","k":35,"v":-1.0},{"s":"0-6h","k":47.4,"v":-0.9},{"s":"0-6h","k":57.8,"v":-0.7},{"s":"0-6h","k":70.4,"v":-0.6},{"s":"0-6h","k":77.7,"v":-0.9},{"s":"0-6h","k":90,"v":-0.6},{"s":"0-6h","k":104.5,"v":-0.5},{"s":"0-6h","k":127,"v":-0.3},{"s":"0-6h","k":154,"v":-0.1},{"s":"0-6h","k":189,"v":0},{"s":"0-6h","k":385,"v":0}
]
},
"concat":[
{"width":358,"height":282,"title":{"text":"a)","offset":-22},"resolve":{"axis":{"x":"independent","y":"independent"}},
"layer":[
{"data":{"name":"a"},"transform":[{"filter":"datum.s !== '0-6h'"}],"mark":{"type":"line","strokeWidth":1.4,"clip":true},"encoding":{
"x":{"field":"k","type":"quantitative","scale":{"type":"log","domain":[3,600],"nice":false},"axis":{"values":[3,4,5,6,7,8,9,10,20,30,40,50,60,70,80,90,100,200,300,400,500,600],"labels":false,"title":null,"grid":true,"gridDash":{"condition":{"test":"datum.value === 10 || datum.value === 100","value":[]},"value":[1,3]},"gridColor":"#d0d0d0","tickSize":-4}},
"y":{"field":"v","type":"quantitative","scale":{"domain":[-10,20],"nice":false},"axis":{"values":[-10,-5,0,5,10,15,20],"title":null,"grid":true,"gridColor":"#e6e6e6","tickSize":-4,"labelPadding":8}},
"color":{"field":"s","type":"nominal","scale":{"domain":["0-2h","2-4h","4-6h","0-6h"],"range":["#0072BD","#F15A22","#FFB000","#000000"]},"legend":null}}},
{"data":{"name":"a"},"transform":[{"filter":"datum.s === '0-6h'"}],"mark":{"type":"line","strokeWidth":4.5,"clip":true},"encoding":{"x":{"field":"k","type":"quantitative","axis":null},"y":{"field":"v","type":"quantitative","axis":null},"color":{"field":"s","type":"nominal","scale":{"domain":["0-2h","2-4h","4-6h","0-6h"],"range":["#0072BD","#F15A22","#FFB000","#000000"]},"legend":null}}},
{"data":{"values":[{}]},"mark":{"type":"rule","color":"#b3b3b3","strokeWidth":3.5,"strokeDash":[3.5,4.5]},"encoding":{"y":{"datum":0,"type":"quantitative","axis":{"orient":"right","values":[-10,-5,0,5,10,15,20],"labels":false,"title":null,"grid":false,"tickSize":-4}}}},
{"data":{"values":[{}]},"mark":{"type":"rect","fill":"#8c8c8c","opacity":0.28},"encoding":{"x":{"datum":100,"type":"quantitative","axis":{"orient":"top","values":[4.9,8.8,16.8,33.5,65.8,100],"labelExpr":"datum.value < 6 ? '400' : datum.value < 12 ? '200' : datum.value < 25 ? '100' : datum.value < 50 ? '50' : datum.value < 80 ? '25' : '16'","title":"wavelength (km)","grid":false,"ticks":false,"labelPadding":6,"titlePadding":2}},"x2":{"datum":600}}},
{"data":{"values":[{}]},"mark":{"type":"text","align":"left","baseline":"middle","fontSize":20,"fontWeight":"bold"},"encoding":{"x":{"datum":4.03,"axis":null},"y":{"datum":18.05,"axis":null},"text":{"value":"k*A(k)"}}},
{"data":{"values":[{}]},"mark":{"type":"text","align":"left","baseline":"middle","fontSize":20,"fontWeight":"bold"},"encoding":{"x":{"datum":4.03,"axis":null},"y":{"datum":-8,"axis":null},"text":{"value":"[0-15km]"}}}
]},
{"width":358,"height":282,"title":{"text":"b)","offset":-22},"resolve":{"axis":{"x":"independent","y":"independent"}},
"layer":[
{"data":{"name":"b"},"transform":[{"filter":"datum.s !== '0-6h'"}],"mark":{"type":"line","strokeWidth":1.4,"clip":true},"encoding":{
"x":{"field":"k","type":"quantitative","scale":{"type":"log","domain":[3,600],"nice":false},"axis":{"values":[3,4,5,6,7,8,9,10,20,30,40,50,60,70,80,90,100,200,300,400,500,600],"labels":false,"title":null,"grid":true,"gridDash":{"condition":{"test":"datum.value === 10 || datum.value === 100","value":[]},"value":[1,3]},"gridColor":"#d0d0d0","tickSize":-4}},
"y":{"field":"v","type":"quantitative","scale":{"domain":[-10,20],"nice":false},"axis":{"values":[-10,-5,0,5,10,15,20],"title":null,"grid":true,"gridColor":"#e6e6e6","tickSize":-4,"labelPadding":8}},
"color":{"field":"s","type":"nominal","scale":{"domain":["0-2h","2-4h","4-6h","0-6h"],"range":["#0072BD","#F15A22","#FFB000","#000000"]},"legend":null}}},
{"data":{"name":"b"},"transform":[{"filter":"datum.s === '0-6h'"}],"mark":{"type":"line","strokeWidth":4.5,"clip":true},"encoding":{"x":{"field":"k","type":"quantitative","axis":null},"y":{"field":"v","type":"quantitative","axis":null},"color":{"field":"s","type":"nominal","scale":{"domain":["0-2h","2-4h","4-6h","0-6h"],"range":["#0072BD","#F15A22","#FFB000","#000000"]},"legend":null}}},
{"data":{"values":[{}]},"mark":{"type":"rule","color":"#b3b3b3","strokeWidth":3.5,"strokeDash":[3.5,4.5]},"encoding":{"y":{"datum":0,"type":"quantitative","axis":{"orient":"right","values":[-10,-5,0,5,10,15,20],"labels":false,"title":null,"grid":false,"tickSize":-4}}}},
{"data":{"values":[{}]},"mark":{"type":"rect","fill":"#8c8c8c","opacity":0.28},"encoding":{"x":{"datum":100,"type":"quantitative","axis":{"orient":"top","values":[4.9,8.8,16.8,33.5,65.8,100],"labelExpr":"datum.value < 6 ? '400' : datum.value < 12 ? '200' : datum.value < 25 ? '100' : datum.value < 50 ? '50' : datum.value < 80 ? '25' : '16'","title":"wavelength (km)","grid":false,"ticks":false,"labelPadding":6,"titlePadding":2}},"x2":{"datum":600}}},
{"data":{"values":[{}]},"mark":{"type":"text","align":"left","baseline":"middle","fontSize":20,"fontWeight":"bold"},"encoding":{"x":{"datum":4.03,"axis":null},"y":{"datum":18.05,"axis":null},"text":{"value":"k*P(k)"}}},
{"data":{"values":[{}]},"mark":{"type":"text","align":"left","baseline":"middle","fontSize":20,"fontWeight":"bold"},"encoding":{"x":{"datum":4.03,"axis":null},"y":{"datum":-8,"axis":null},"text":{"value":"[0-15km]"}}}
]},
{"width":358,"height":282,"title":{"text":"c)","offset":-22},"resolve":{"axis":{"x":"independent","y":"independent"}},
"layer":[
{"data":{"name":"c"},"transform":[{"filter":"datum.s !== '0-6h'"}],"mark":{"type":"line","strokeWidth":1.4,"clip":true},"encoding":{
"x":{"field":"k","type":"quantitative","scale":{"type":"log","domain":[3,600],"nice":false},"axis":{"values":[3,4,5,6,7,8,9,10,20,30,40,50,60,70,80,90,100,200,300,400,500,600],"labels":false,"title":null,"grid":true,"gridDash":{"condition":{"test":"datum.value === 10 || datum.value === 100","value":[]},"value":[1,3]},"gridColor":"#d0d0d0","tickSize":-4}},
"y":{"field":"v","type":"quantitative","scale":{"domain":[-20,10],"nice":false},"axis":{"values":[-20,-15,-10,-5,0,5,10],"title":null,"grid":true,"gridColor":"#e6e6e6","tickSize":-4,"labelPadding":8}},
"color":{"field":"s","type":"nominal","scale":{"domain":["0-2h","2-4h","4-6h","0-6h"],"range":["#0072BD","#F15A22","#FFB000","#000000"]},"legend":{"orient":"top-right","offset":8,"title":null,"symbolType":"stroke","symbolSize":729,"labelFontSize":15,"labelFont":"Liberation Sans","labelColor":"#000000","strokeColor":"#262626","fillColor":"#ffffff","padding":4,"rowPadding":2,"labelOffset":4,"symbolStrokeWidth":1.5,"encode":{"symbols":{"update":{"strokeWidth":{"signal":"datum.value === '0-6h' ? 5 : 1.5"}}}}}}}},
{"data":{"name":"c"},"transform":[{"filter":"datum.s === '0-6h'"}],"mark":{"type":"line","strokeWidth":4.5,"clip":true},"encoding":{"x":{"field":"k","type":"quantitative","axis":null},"y":{"field":"v","type":"quantitative","axis":null},"color":{"field":"s","type":"nominal","scale":{"domain":["0-2h","2-4h","4-6h","0-6h"],"range":["#0072BD","#F15A22","#FFB000","#000000"]}}}},
{"data":{"values":[{}]},"mark":{"type":"rule","color":"#b3b3b3","strokeWidth":3.5,"strokeDash":[3.5,4.5]},"encoding":{"y":{"datum":0,"type":"quantitative","axis":{"orient":"right","values":[-20,-15,-10,-5,0,5,10],"labels":false,"title":null,"grid":false,"tickSize":-4}}}},
{"data":{"values":[{}]},"mark":{"type":"rect","fill":"#8c8c8c","opacity":0.28},"encoding":{"x":{"datum":100,"type":"quantitative","axis":{"orient":"top","values":[4.9,8.8,16.8,33.5,65.8,100],"labelExpr":"datum.value < 6 ? '400' : datum.value < 12 ? '200' : datum.value < 25 ? '100' : datum.value < 50 ? '50' : datum.value < 80 ? '25' : '16'","title":"wavelength (km)","grid":false,"ticks":false,"labelPadding":6,"titlePadding":2}},"x2":{"datum":600}}},
{"data":{"values":[{}]},"mark":{"type":"text","align":"left","baseline":"middle","fontSize":20,"fontWeight":"bold"},"encoding":{"x":{"datum":4.03,"axis":null},"y":{"datum":8.05,"axis":null},"text":{"value":"k*D(k)"}}},
{"data":{"values":[{}]},"mark":{"type":"text","align":"left","baseline":"middle","fontSize":20,"fontWeight":"bold"},"encoding":{"x":{"datum":4.03,"axis":null},"y":{"datum":-18,"axis":null},"text":{"value":"[0-15km]"}}}
]},
{"width":358,"height":282,"title":{"text":"d)","offset":-2},"resolve":{"axis":{"x":"independent","y":"independent"}},
"layer":[
{"data":{"name":"d"},"transform":[{"filter":"datum.s !== '0-6h'"}],"mark":{"type":"line","strokeWidth":1.4,"clip":true},"encoding":{
"x":{"field":"k","type":"quantitative","scale":{"type":"log","domain":[3,600],"nice":false},"axis":{"values":[3,4,5,6,7,8,9,10,20,30,40,50,60,70,80,90,100,200,300,400,500,600],"labelExpr":"datum.value === 10 ? '10¹' : datum.value === 100 ? '10²' : ''","title":"wavenumber","titlePadding":2,"labelPadding":8,"grid":true,"gridDash":{"condition":{"test":"datum.value === 10 || datum.value === 100","value":[]},"value":[1,3]},"gridColor":"#d0d0d0","tickSize":-4}},
"y":{"field":"v","type":"quantitative","scale":{"domain":[-10,20],"nice":false},"axis":{"values":[-10,-5,0,5,10,15,20],"title":null,"grid":true,"gridColor":"#e6e6e6","tickSize":-4,"labelPadding":8}},
"color":{"field":"s","type":"nominal","scale":{"domain":["0-2h","2-4h","4-6h","0-6h"],"range":["#0072BD","#F15A22","#FFB000","#000000"]},"legend":null}}},
{"data":{"name":"d"},"transform":[{"filter":"datum.s === '0-6h'"}],"mark":{"type":"line","strokeWidth":4.5,"clip":true},"encoding":{"x":{"field":"k","type":"quantitative","axis":null},"y":{"field":"v","type":"quantitative","axis":null},"color":{"field":"s","type":"nominal","scale":{"domain":["0-2h","2-4h","4-6h","0-6h"],"range":["#0072BD","#F15A22","#FFB000","#000000"]},"legend":null}}},
{"data":{"values":[{}]},"mark":{"type":"rule","color":"#b3b3b3","strokeWidth":3.5,"strokeDash":[3.5,4.5]},"encoding":{"y":{"datum":0,"type":"quantitative","axis":{"orient":"right","values":[-10,-5,0,5,10,15,20],"labels":false,"title":null,"grid":false,"tickSize":-4}}}},
{"data":{"values":[{}]},"mark":{"type":"rect","fill":"#8c8c8c","opacity":0.28},"encoding":{"x":{"datum":100,"type":"quantitative","axis":null},"x2":{"datum":600}}},
{"data":{"values":[{}]},"mark":{"type":"text","align":"left","baseline":"middle","fontSize":20,"fontWeight":"bold"},"encoding":{"x":{"datum":4.03,"axis":null},"y":{"datum":17.9,"axis":null},"text":{"value":"k*T(k)"}}},
{"data":{"values":[{}]},"mark":{"type":"text","align":"left","baseline":"middle","fontSize":20,"fontWeight":"bold"},"encoding":{"x":{"datum":4.03,"axis":null},"y":{"datum":-7.95,"axis":null},"text":{"value":"[0-15km]"}}}
]},
{"width":358,"height":282,"title":{"text":"e)","offset":-38},"resolve":{"axis":{"x":"independent","y":"independent"}},
"layer":[
{"data":{"name":"e"},"transform":[{"filter":"datum.s !== '0-6h'"}],"mark":{"type":"line","strokeWidth":1.4,"clip":true},"encoding":{
"x":{"field":"k","type":"quantitative","scale":{"type":"log","domain":[3,600],"nice":false},"axis":{"values":[3,4,5,6,7,8,9,10,20,30,40,50,60,70,80,90,100,200,300,400,500,600],"labelExpr":"datum.value === 10 ? '10¹' : datum.value === 100 ? '10²' : ''","title":"wavenumber","titlePadding":2,"labelPadding":8,"grid":true,"gridDash":{"condition":{"test":"datum.value === 10 || datum.value === 100","value":[]},"value":[1,3]},"gridColor":"#d0d0d0","tickSize":-4}},
"y":{"field":"v","type":"quantitative","scale":{"domain":[-10,20],"nice":false},"axis":{"values":[-10,-5,0,5,10,15,20],"title":null,"grid":true,"gridColor":"#e6e6e6","tickSize":-4,"labelPadding":8}},
"color":{"field":"s","type":"nominal","scale":{"domain":["0-2h","2-4h","4-6h","0-6h"],"range":["#0072BD","#F15A22","#FFB000","#000000"]},"legend":null}}},
{"data":{"name":"e"},"transform":[{"filter":"datum.s === '0-6h'"}],"mark":{"type":"line","strokeWidth":4.5,"clip":true},"encoding":{"x":{"field":"k","type":"quantitative","axis":null},"y":{"field":"v","type":"quantitative","axis":null},"color":{"field":"s","type":"nominal","scale":{"domain":["0-2h","2-4h","4-6h","0-6h"],"range":["#0072BD","#F15A22","#FFB000","#000000"]},"legend":null}}},
{"data":{"values":[{}]},"mark":{"type":"rule","color":"#b3b3b3","strokeWidth":3.5,"strokeDash":[3.5,4.5]},"encoding":{"y":{"datum":0,"type":"quantitative","axis":{"orient":"right","values":[-10,-5,0,5,10,15,20],"labels":false,"title":null,"grid":false,"tickSize":-4}}}},
{"data":{"values":[{}]},"mark":{"type":"rect","fill":"#8c8c8c","opacity":0.28},"encoding":{"x":{"datum":100,"type":"quantitative","axis":{"orient":"top","values":[4.9,8.8,16.8,33.5,65.8,100],"labelExpr":"datum.value < 6 ? '400' : datum.value < 12 ? '200' : datum.value < 25 ? '100' : datum.value < 50 ? '50' : datum.value < 80 ? '25' : '16'","title":"wavelength (km)","grid":false,"ticks":false,"labelPadding":6,"titlePadding":2}},"x2":{"datum":600}}},
{"data":{"values":[{}]},"mark":{"type":"text","align":"left","baseline":"middle","fontSize":20,"fontWeight":"bold"},"encoding":{"x":{"datum":4.03,"axis":null},"y":{"datum":18.1,"axis":null},"text":{"value":"k*B(k)"}}},
{"data":{"values":[{}]},"mark":{"type":"text","align":"left","baseline":"middle","fontSize":20,"fontWeight":"bold"},"encoding":{"x":{"datum":4.03,"axis":null},"y":{"datum":-7.9,"axis":null},"text":{"value":"[0-15km]"}}}
]},
{"width":358,"height":282,"title":{"text":"f)","offset":-2,"dx":-4},"resolve":{"axis":{"x":"independent","y":"independent"}},
"layer":[
{"data":{"name":"f"},"transform":[{"filter":"datum.s !== '0-6h'"}],"mark":{"type":"line","strokeWidth":1.4,"clip":true},"encoding":{
"x":{"field":"k","type":"quantitative","scale":{"type":"log","domain":[3,600],"nice":false},"axis":{"values":[3,4,5,6,7,8,9,10,20,30,40,50,60,70,80,90,100,200,300,400,500,600],"labelExpr":"datum.value === 10 ? '10¹' : datum.value === 100 ? '10²' : ''","title":"wavenumber","titlePadding":2,"labelPadding":8,"grid":true,"gridDash":{"condition":{"test":"datum.value === 10 || datum.value === 100","value":[]},"value":[1,3]},"gridColor":"#d0d0d0","tickSize":-4}},
"y":{"field":"v","type":"quantitative","scale":{"domain":[-15,15],"nice":false},"axis":{"values":[-15,-10,-5,0,5,10,15],"title":null,"grid":true,"gridColor":"#e6e6e6","tickSize":-4,"labelPadding":8}},
"color":{"field":"s","type":"nominal","scale":{"domain":["0-2h","2-4h","4-6h","0-6h"],"range":["#0072BD","#F15A22","#FFB000","#000000"]},"legend":null}}},
{"data":{"name":"f"},"transform":[{"filter":"datum.s === '0-6h'"}],"mark":{"type":"line","strokeWidth":4.5,"clip":true},"encoding":{"x":{"field":"k","type":"quantitative","axis":null},"y":{"field":"v","type":"quantitative","axis":null},"color":{"field":"s","type":"nominal","scale":{"domain":["0-2h","2-4h","4-6h","0-6h"],"range":["#0072BD","#F15A22","#FFB000","#000000"]},"legend":null}}},
{"data":{"values":[{}]},"mark":{"type":"rule","color":"#b3b3b3","strokeWidth":3.5,"strokeDash":[3.5,4.5]},"encoding":{"y":{"datum":0,"type":"quantitative","axis":{"orient":"right","values":[-15,-10,-5,0,5,10,15],"labels":false,"title":null,"grid":false,"tickSize":-4}}}},
{"data":{"values":[{}]},"mark":{"type":"rect","fill":"#8c8c8c","opacity":0.28},"encoding":{"x":{"datum":100,"type":"quantitative","axis":null},"x2":{"datum":600}}},
{"data":{"values":[{}]},"mark":{"type":"text","align":"left","baseline":"middle","fontSize":20,"fontWeight":"bold"},"encoding":{"x":{"datum":4.03,"axis":null},"y":{"datum":13.5,"axis":null},"text":{"value":"k*Flux(k)"}}},
{"data":{"values":[{}]},"mark":{"type":"text","align":"left","baseline":"middle","fontSize":20,"fontWeight":"bold"},"encoding":{"x":{"datum":4.03,"axis":null},"y":{"datum":-11.9,"axis":null},"text":{"value":"[0-15km]"}}}
]}
]
}
